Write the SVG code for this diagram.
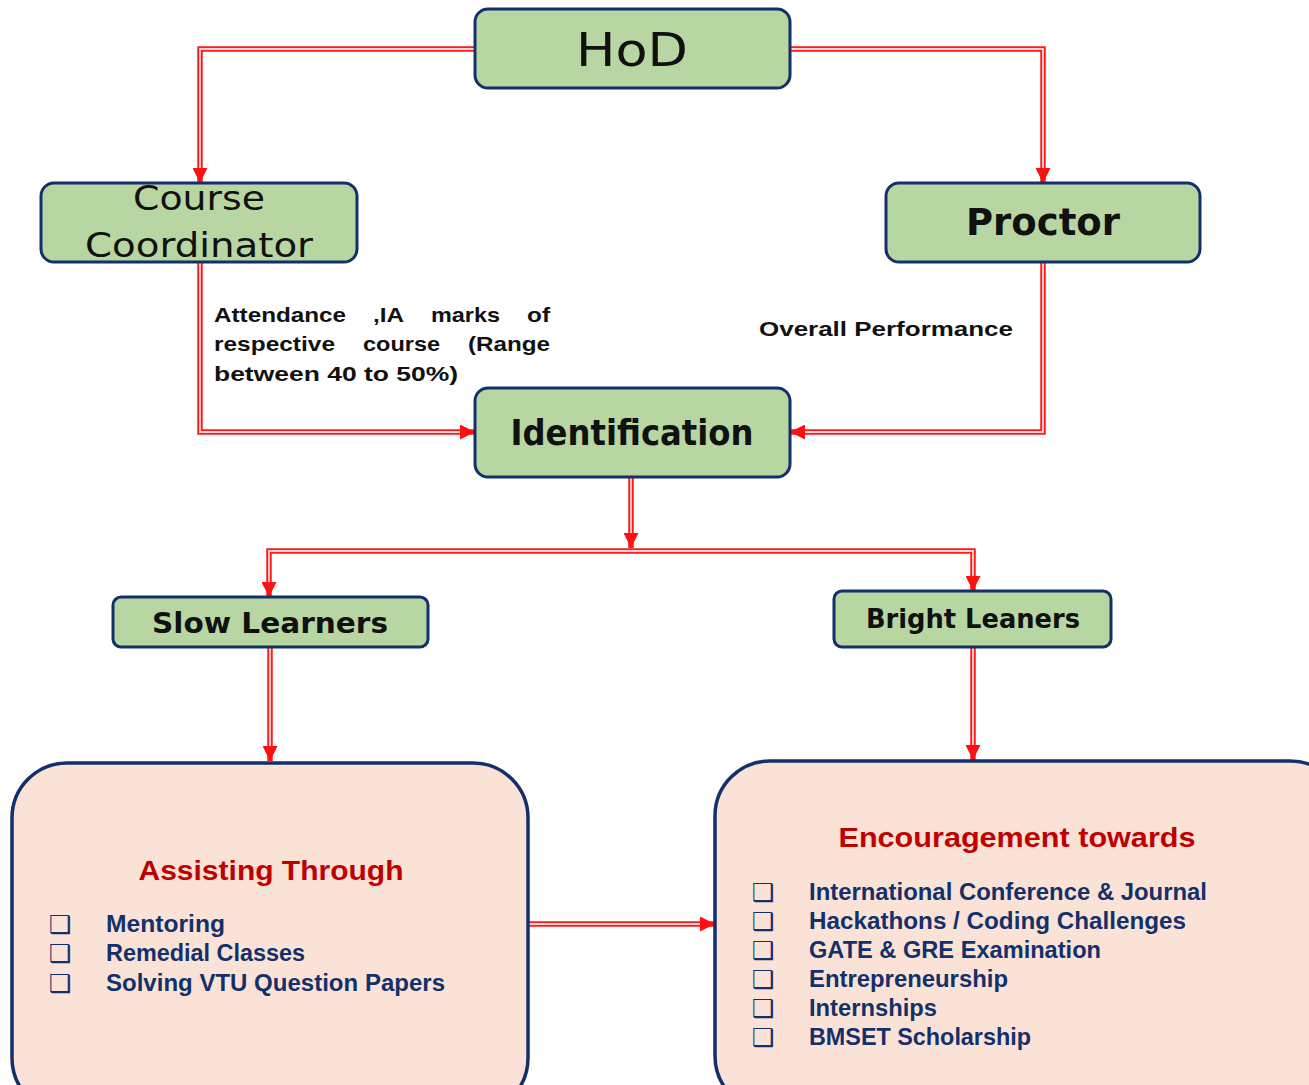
<svg xmlns="http://www.w3.org/2000/svg" width="1309" height="1085" viewBox="0 0 1309 1085">
  <style>
    .role { fill: #b8d6a2; stroke: #13306b; stroke-width: 3; }
    .panel { fill: #fae3d6; stroke: #13306b; stroke-width: 3.5; }
    .wire-out { fill: none; stroke: #ff1a1a; stroke-width: 5.5; }
    .wire-in { fill: none; stroke: #ffd6d6; stroke-width: 1.8; }
    .t-plain { font-family: "DejaVu Sans", Verdana, sans-serif; fill: #111; text-anchor: middle; }
    .t-bold { font-family: "DejaVu Sans", Verdana, sans-serif; font-weight: bold; fill: #111; text-anchor: middle; }
    .note { font-family: "Liberation Sans", Arial, sans-serif; font-weight: bold; font-size: 21px; fill: #111; }
    .head { font-family: "Liberation Sans", Arial, sans-serif; font-weight: bold; font-size: 28px; fill: #c00000; text-anchor: middle; }
    .item { font-family: "Liberation Sans", Arial, sans-serif; font-weight: bold; font-size: 23px; fill: #13306b; }
    .tick { font-family: "DejaVu Sans", sans-serif; font-size: 25px; fill: #13306b; }
  </style>
  <defs>
    <marker id="head" viewBox="0 0 15 15" markerWidth="15" markerHeight="15" refX="15" refY="7.5" orient="auto" markerUnits="userSpaceOnUse">
      <path d="M0,0 L15,7.5 L0,15 z" fill="#ff1010"/>
    </marker>
  </defs>

  <rect width="1309" height="1085" fill="#ffffff"/>

  <!-- connectors: red double lines with solid heads -->
  <g id="connectors">
    <path class="wire-out" d="M475,49 H200 V183" marker-end="url(#head)"/>
    <path class="wire-in" d="M475,49 H200 V168"/>
    <path class="wire-out" d="M790,49 H1043 V183" marker-end="url(#head)"/>
    <path class="wire-in" d="M790,49 H1043 V168"/>
    <path class="wire-out" d="M200,262 V432 H475" marker-end="url(#head)"/>
    <path class="wire-in" d="M200,262 V432 H460"/>
    <path class="wire-out" d="M1043,262 V432 H790" marker-end="url(#head)"/>
    <path class="wire-in" d="M1043,262 V432 H805"/>
    <path class="wire-out" d="M631,478 V548" marker-end="url(#head)"/>
    <path class="wire-in" d="M631,478 V533"/>
    <path class="wire-out" d="M631,551 H269 V597" marker-end="url(#head)"/>
    <path class="wire-in" d="M631,551 H269 V582"/>
    <path class="wire-out" d="M631,551 H973 V591" marker-end="url(#head)"/>
    <path class="wire-in" d="M631,551 H973 V576"/>
    <path class="wire-out" d="M270,648 V761" marker-end="url(#head)"/>
    <path class="wire-in" d="M270,648 V746"/>
    <path class="wire-out" d="M973,648 V760" marker-end="url(#head)"/>
    <path class="wire-in" d="M973,648 V745"/>
    <path class="wire-out" d="M529,924 H715" marker-end="url(#head)"/>
    <path class="wire-in" d="M529,924 H700"/>
  </g>

  <g id="hod">
    <rect class="role" x="475" y="9" width="315" height="79" rx="13"/>
    <text class="t-plain" x="632" y="66" font-size="47" textLength="112" lengthAdjust="spacingAndGlyphs">HoD</text>
  </g>

  <g id="course-coordinator">
    <rect class="role" x="41" y="183" width="316" height="79" rx="13"/>
    <text class="t-plain" x="199" y="210" font-size="34" textLength="132" lengthAdjust="spacingAndGlyphs">Course</text>
    <text class="t-plain" x="199" y="257" font-size="34" textLength="228" lengthAdjust="spacingAndGlyphs">Coordinator</text>
  </g>

  <g id="proctor">
    <rect class="role" x="886" y="183" width="314" height="79" rx="13"/>
    <text class="t-bold" x="1043" y="235" font-size="37" textLength="154" lengthAdjust="spacingAndGlyphs">Proctor</text>
  </g>

  <!-- justified note: words placed one by one -->
  <g id="coordinator-note">
    <text class="note" x="214" y="322" textLength="132" lengthAdjust="spacingAndGlyphs">Attendance</text>
    <text class="note" x="373" y="322" textLength="31" lengthAdjust="spacingAndGlyphs">,IA</text>
    <text class="note" x="431" y="322" textLength="69" lengthAdjust="spacingAndGlyphs">marks</text>
    <text class="note" x="527" y="322" textLength="23" lengthAdjust="spacingAndGlyphs">of</text>
    <text class="note" x="214" y="351" textLength="121" lengthAdjust="spacingAndGlyphs">respective</text>
    <text class="note" x="363" y="351" textLength="77" lengthAdjust="spacingAndGlyphs">course</text>
    <text class="note" x="468" y="351" textLength="82" lengthAdjust="spacingAndGlyphs">(Range</text>
    <text class="note" x="214" y="381" textLength="244" lengthAdjust="spacingAndGlyphs">between 40 to 50%)</text>
  </g>

  <g id="proctor-note">
    <text class="note" x="759" y="336" textLength="254" lengthAdjust="spacingAndGlyphs">Overall Performance</text>
  </g>

  <g id="identification">
    <rect class="role" x="475" y="388" width="315" height="89" rx="13"/>
    <text class="t-bold" x="632" y="445" font-size="35" textLength="243" lengthAdjust="spacingAndGlyphs">Identification</text>
  </g>

  <g id="slow-learners">
    <rect class="role" x="113" y="597" width="315" height="50" rx="8"/>
    <text class="t-bold" x="270" y="633" font-size="29" textLength="236" lengthAdjust="spacingAndGlyphs">Slow Learners</text>
  </g>

  <g id="bright-learners">
    <rect class="role" x="834" y="591" width="277" height="56" rx="8"/>
    <text class="t-bold" x="973" y="628" font-size="26" textLength="214" lengthAdjust="spacingAndGlyphs">Bright Leaners</text>
  </g>

  <g id="assisting-through">
    <rect class="panel" x="12" y="763" width="516" height="350" rx="55"/>
    <text class="head" x="271" y="880" textLength="265" lengthAdjust="spacingAndGlyphs">Assisting Through</text>
    <text class="tick" x="49" y="933">❑</text>
    <text class="item" x="106" y="932" textLength="119" lengthAdjust="spacingAndGlyphs">Mentoring</text>
    <text class="tick" x="49" y="962">❑</text>
    <text class="item" x="106" y="961" textLength="199" lengthAdjust="spacingAndGlyphs">Remedial Classes</text>
    <text class="tick" x="49" y="992">❑</text>
    <text class="item" x="106" y="991" textLength="339" lengthAdjust="spacingAndGlyphs">Solving VTU Question Papers</text>
  </g>

  <g id="encouragement-towards">
    <rect class="panel" x="715" y="761" width="630" height="350" rx="55"/>
    <text class="head" x="1017" y="847" textLength="357" lengthAdjust="spacingAndGlyphs">Encouragement towards</text>
    <text class="tick" x="752" y="901">❑</text>
    <text class="item" x="809" y="900" textLength="398" lengthAdjust="spacingAndGlyphs">International Conference &amp; Journal</text>
    <text class="tick" x="752" y="930">❑</text>
    <text class="item" x="809" y="929" textLength="377" lengthAdjust="spacingAndGlyphs">Hackathons / Coding Challenges</text>
    <text class="tick" x="752" y="959">❑</text>
    <text class="item" x="809" y="958" textLength="292" lengthAdjust="spacingAndGlyphs">GATE &amp; GRE Examination</text>
    <text class="tick" x="752" y="988">❑</text>
    <text class="item" x="809" y="987" textLength="199" lengthAdjust="spacingAndGlyphs">Entrepreneurship</text>
    <text class="tick" x="752" y="1017">❑</text>
    <text class="item" x="809" y="1016" textLength="128" lengthAdjust="spacingAndGlyphs">Internships</text>
    <text class="tick" x="752" y="1046">❑</text>
    <text class="item" x="809" y="1045" textLength="222" lengthAdjust="spacingAndGlyphs">BMSET Scholarship</text>
  </g>
</svg>
